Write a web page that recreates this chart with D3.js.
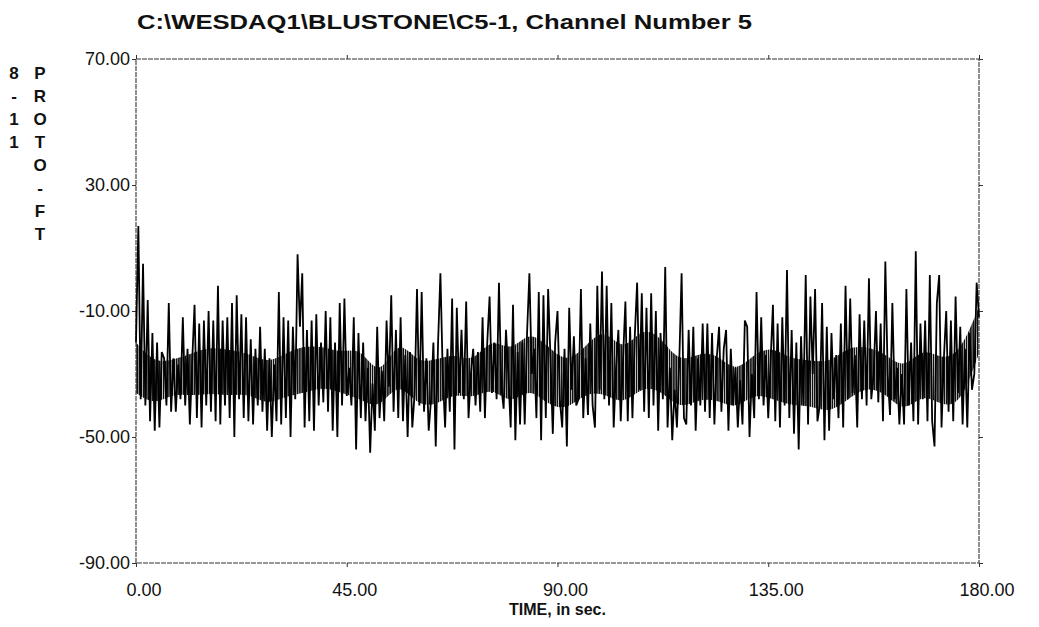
<!DOCTYPE html>
<html>
<head>
<meta charset="utf-8">
<script src="https://cdn.jsdelivr.net/npm/d3@7"></script>
<style>
    body { margin: 0; background: #fff; }
    svg { display: block; }
    text { font-family: "Liberation Sans", Arial, sans-serif; fill: #111; }
</style>
</head>
<body>
<div id="chart"></div>
<script>
const width = 1039, height = 627
const plot_left = 136, plot_right = 979, plot_top = 59, plot_bottom = 563

const title = "C:\\WESDAQ1\\BLUSTONE\\C5-1, Channel Number 5"
const x_label = "TIME, in sec."
const y_label_1 = ["8", "-", "1", "1"]
const y_label_2 = ["P", "R", "O", "T", "O", "-", "F", "T"]

const x_ticks = [0, 45, 90, 135, 180]
const y_ticks = [70, 30, -10, -50, -90]

// one reading every half second
const time_step = 0.5
const wave_height = [
    -20, 17, -38, 5, -40, -6.5, -45, -17, -48, -20,
    -47, -23, -25, -40, -7.5, -42, -25, -42, -27, -38,
    -12, -40, -22, -46, -26, -8, -44, -14, -47, -13,
    -40, -10, -42, -13, -45, -2, -46, -13, -40, -12,
    -44, -7.5, -50, -5, -38, -11, -44, -12, -45, -19,
    -46, -22, -40, -15, -42, -22, -48, -25, -50, -27,
    -45, -4, -46, -12, -44, -13, -50, -15, -38, 8,
    -15, 2, -47, -16, -45, -13, -48, -11, -40, -20,
    -39, -10, -42, -12, -48, -20, -50, -7.5, -40, -6,
    -37, -28, -40, -12, -54, -17, -44, -20, -45, -28,
    -55, -33, -48, -15, -44, -29, -45, -13, -34, -5,
    -42, -16, -44, -12, -45, -24, -50, -23, -47, -36,
    -3, -40, -4, -42, -25, -48, -38, -20, -53, -20,
    2, -30, -47, -22, -42, -6, -54, -9, -36, -16,
    -38, -7, -44, -30, -22, -40, -23, -42, -12, -44,
    -20, -5.4, -36, -20, -38, -1, -34, -41, -16, -30,
    -47, -8, -51, -23, -46, -20, -46, -17, 2, -30,
    -22, -44, -4, -51, -5, -44, -3, -25, -49, -20,
    -10, -38, -47, -22, -53, -9, -35, -18, -40, -38,
    -3, -44, -25, -43, -14, -40, -47, -2, -35, 2.5,
    -38, -2, -40, -7.5, -47, -28, -16, -45, -25, -7,
    -45, -15, -44, -18, -1, -35, -4.4, -42, -9, -44,
    -4.4, -40, -10, -48, -17, -38, 4, -47, -28, -51,
    -35, -47, -26, 2, -44, -46, -16, -40, -15, -48,
    -25, -40, -14, -42, -14, -44, -17, -46, -25, -15,
    -42, -22, -16, -48, -22, -40, -28, -47, -32, -46,
    -13, -15, -50, -30, -44, -4, -38, -12, -40, -24,
    -44, -26, -8, -45, -14, -47, -12, -40, 3, -44,
    -16, -49, -20, -54, -18, -40, 1.4, -46, -5.4, -30,
    -3, -45, -40, -7.5, -51, -15, -48, -17, -38, -24,
    -44, -14, -47, -2, -38, -6, -36, -24, -47, -11,
    -38, -13, -40, 0.4, -38, -30, -10, -39, -14, -45,
    5.7, -30, -43, -7.5, -38, -28, -46, -30, -46, -3,
    -40, -20, -45, 9, -46, -14, -38, -13, -45, 1.4,
    -45, -53, -7.5, 1.4, -47, -25, -10, -42, -13, -45,
    -5.4, -36, -15, -46, -22, -47, -17, -35, -30, -1,
    -12
]

// the dense core of the trace (where the strokes merge), every 4 s
const band_step = 4
const band_top = [
    -20, -26.6, -25.5, -23.4, -21.3, -22.4, -23.4, -26.6, -23.4, -21,
    -21.3, -23.4, -21.3, -32, -18, -26.6, -25.5, -23.4, -26.6,
    -18, -23.4, -16, -21.3, -26.6, -21.3, -15, -23.4, -15,
    -18, -26.6, -23.4, -23.4, -29.8, -23.4, -21.3, -25.5, -25.5,
    -26.6, -21.3, -21.3, -23.4, -28.7, -21.3, -25.5, -23.4, -8.6
]
const band_bottom = [
    -36, -40, -36, -37, -36, -37, -36, -40, -37, -36,
    -34, -36, -38, -41.4, -31.9, -40, -40, -36, -38,
    -34, -40, -34, -40, -41.4, -36, -36, -40, -34,
    -35, -41.4, -38, -38, -41.4, -36, -38, -40, -40,
    -42.5, -38, -34, -36, -42.5, -36, -40, -40, -23.4
]

const svg = d3.select("#chart")
    .append("svg")
    .attr("width", width)
    .attr("height", height)

// vertical hatching for the dense core, so it reads as many strokes
const hatch = svg.append("defs")
    .append("pattern")
    .attr("id", "hatch")
    .attr("patternUnits", "userSpaceOnUse")
    .attr("width", 2.2)
    .attr("height", 10)
hatch.append("rect")
    .attr("width", 1.6)
    .attr("height", 10)
    .attr("fill", "#111")

const x = d3.scaleLinear()
    .domain([0, 180])
    .range([plot_left, plot_right])

const y = d3.scaleLinear()
    .domain([-90, 70])
    .range([plot_bottom, plot_top])

// title
svg.append("text")
    .attr("x", 137)
    .attr("y", 29)
    .attr("font-size", "21px")
    .attr("font-weight", "bold")
    .attr("textLength", 615)
    .attr("lengthAdjust", "spacingAndGlyphs")
    .text(title)

// frame, drawn a bit broken like the scan
svg.append("rect")
    .attr("x", x(0))
    .attr("y", y(70))
    .attr("width", x(180) - x(0))
    .attr("height", y(-90) - y(70))
    .attr("fill", "none")
    .attr("stroke", "#333")
    .attr("stroke-width", 1.1)
    .attr("stroke-dasharray", "5,1")

// axes: ticks point outward on all four sides
const tick_len = 4
svg.append("g")
    .attr("transform", "translate(0," + y(-90) + ")")
    .call(d3.axisBottom(x).tickValues(x_ticks).tickSize(tick_len).tickFormat(""))
svg.append("g")
    .attr("transform", "translate(0," + y(70) + ")")
    .call(d3.axisTop(x).tickValues(x_ticks).tickSize(tick_len).tickFormat(""))
svg.append("g")
    .attr("transform", "translate(" + x(0) + ",0)")
    .call(d3.axisLeft(y).tickValues(y_ticks).tickSize(tick_len).tickFormat(""))
svg.append("g")
    .attr("transform", "translate(" + x(180) + ",0)")
    .call(d3.axisRight(y).tickValues(y_ticks).tickSize(tick_len).tickFormat(""))
svg.selectAll(".domain").remove()
svg.selectAll(".tick line").attr("stroke", "#333")

// tick labels
svg.append("g")
    .selectAll("text")
    .data(y_ticks)
    .join("text")
    .attr("x", x(0) - 6)
    .attr("y", d => y(d) + 6)
    .attr("text-anchor", "end")
    .attr("font-size", "18px")
    .text(d => d.toFixed(2))

svg.append("g")
    .selectAll("text")
    .data(x_ticks)
    .join("text")
    .attr("x", d => x(d) + 8)
    .attr("y", y(-90) + 33)
    .attr("text-anchor", "middle")
    .attr("font-size", "18px")
    .text(d => d.toFixed(2))

svg.append("text")
    .attr("x", x(90))
    .attr("y", y(-90) + 52)
    .attr("text-anchor", "middle")
    .attr("font-size", "16px")
    .attr("font-weight", "bold")
    .text(x_label)

// y label is stacked letter by letter, in two columns
svg.append("g")
    .selectAll("text")
    .data(y_label_1)
    .join("text")
    .attr("x", 14)
    .attr("y", (d, i) => 79 + i * 23)
    .attr("text-anchor", "middle")
    .attr("font-size", "17px")
    .attr("font-weight", "bold")
    .text(d => d)

svg.append("g")
    .selectAll("text")
    .data(y_label_2)
    .join("text")
    .attr("x", 40)
    .attr("y", (d, i) => 79 + i * 23)
    .attr("text-anchor", "middle")
    .attr("font-size", "17px")
    .attr("font-weight", "bold")
    .text(d => d)

// the trace: hatched core first, then the strokes over it
const band = d3.area()
    .curve(d3.curveBasis)
    .x((d, i) => x(i * band_step))
    .y0((d, i) => y(band_bottom[i]))
    .y1(d => y(d))

svg.append("path")
    .datum(band_top)
    .attr("fill", "url(#hatch)")
    .attr("d", band)

const line = d3.line()
    .x((d, i) => x(i * time_step))
    .y(d => y(d))

svg.append("path")
    .datum(wave_height)
    .attr("fill", "none")
    .attr("stroke", "#000")
    .attr("stroke-width", 1.8)
    .attr("d", line)
</script>
</body>
</html>
